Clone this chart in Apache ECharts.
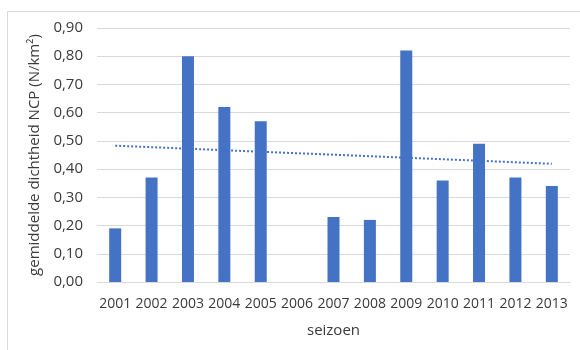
<!DOCTYPE html>
<html>
<head>
<meta charset="utf-8">
<script src="https://cdn.jsdelivr.net/npm/echarts@6/dist/echarts.min.js"></script>
<style>
  html, body { margin: 0; padding: 0; background: #fff; }
  #chart { width: 580px; height: 350px; }
</style>
</head>
<body>
<div id="chart"></div>
<script>
const seasons = ['2001', '2002', '2003', '2004', '2005', '2006', '2007', '2008', '2009', '2010', '2011', '2012', '2013'];
const density = [0.19, 0.37, 0.80, 0.62, 0.57, null, 0.23, 0.22, 0.82, 0.36, 0.49, 0.37, 0.34];
// linear trendline, only the two end points
const trend = [0.483, null, null, null, null, null, null, null, null, null, null, null, 0.419];

const chart = echarts.init(document.getElementById('chart'));

const font = '"Open Sans", "Noto Sans", sans-serif';

chart.setOption({
  animation: false,
  textStyle: { fontFamily: font },
  graphic: [
    {
      type: 'polyline',
      shape: { points: [[7.5, 350], [7.5, 11.5], [580, 11.5]] },
      style: { stroke: '#d9d9d9', lineWidth: 1, fill: null },
      silent: true
    }
  ],
  grid: { left: 97, right: 10, top: 28, bottom: 68 },
  xAxis: {
    type: 'category',
    data: seasons,
    name: 'seizoen',
    nameLocation: 'middle',
    nameGap: 41,
    nameTextStyle: { color: '#3a3a3a', fontSize: 15, fontFamily: font },
    axisLine: { show: true, lineStyle: { color: '#d9d9d9', width: 1 } },
    axisTick: { show: false },
    axisLabel: { color: '#3a3a3a', fontSize: 14, margin: 15, fontFamily: font, interval: 0 }
  },
  yAxis: {
    type: 'value',
    min: 0,
    max: 0.9,
    interval: 0.1,
    name: 'gemiddelde dichtheid NCP (N/km²)',
    nameLocation: 'middle',
    nameGap: 48,
    nameTextStyle: { color: '#3a3a3a', fontSize: 15, fontFamily: font },
    axisLine: { show: false },
    axisTick: { show: false },
    axisLabel: {
      color: '#3a3a3a',
      fontSize: 15,
      margin: 14,
      fontFamily: font,
      formatter: v => v.toFixed(2).replace('.', ',')
    },
    splitLine: { lineStyle: { color: '#d9d9d9', width: 1 } }
  },
  series: [
    {
      type: 'bar',
      data: density,
      barWidth: 12,
      itemStyle: { color: '#4472c4' }
    },
    {
      type: 'line',
      data: trend,
      connectNulls: true,
      symbol: 'none',
      lineStyle: { color: '#4472c4', width: 2, type: [2, 2] },
      z: 3
    }
  ]
});
</script>
</body>
</html>
